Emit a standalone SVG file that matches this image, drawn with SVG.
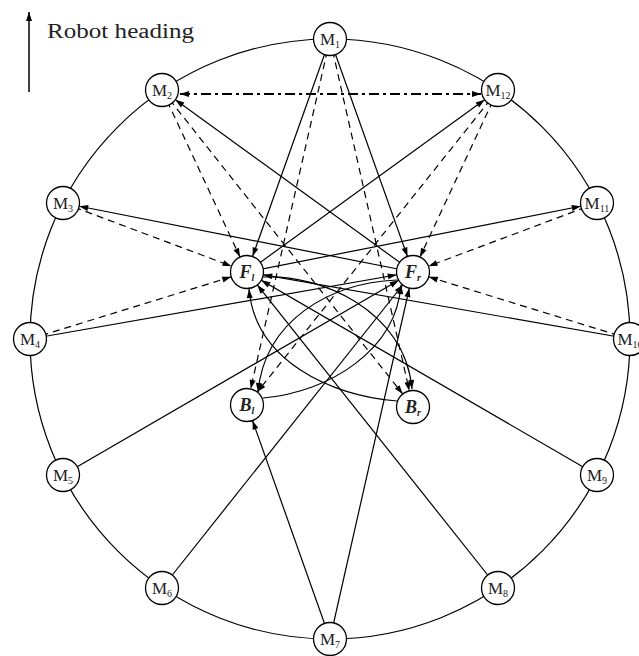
<svg xmlns="http://www.w3.org/2000/svg" width="639" height="656" viewBox="0 0 639 656">
<style>
.ln{stroke:#000;stroke-width:1.2;fill:none}
.ds{stroke:#000;stroke-width:1.2;fill:none;stroke-dasharray:7,5}
.dd{stroke:#000;stroke-width:2;fill:none;stroke-dasharray:10,4,3,4}
.nd{fill:#fff;stroke:#000;stroke-width:1.3}
.lb{font-family:"Liberation Serif","DejaVu Serif",serif;font-size:17px;fill:#222;text-anchor:middle}
.sb{font-size:10px}
.fb{font-family:"Liberation Serif","DejaVu Serif",serif;font-size:18px;font-style:italic;font-weight:bold;fill:#222;text-anchor:middle}
.ttl{font-family:"Liberation Serif","DejaVu Serif",serif;font-size:20px;fill:#222}
.na{marker-end:url(#an)}
.ea{marker-end:url(#a)}
</style>
<defs>
<marker id="an" viewBox="0 0 9 6" refX="25.5" refY="3" markerWidth="9" markerHeight="6" markerUnits="userSpaceOnUse" orient="auto" overflow="visible"><path d="M0,0 L9,3 L0,6 z" fill="#000"/></marker>
<marker id="a" viewBox="0 0 9 6" refX="9" refY="3" markerWidth="9" markerHeight="6" markerUnits="userSpaceOnUse" orient="auto-start-reverse" overflow="visible"><path d="M0,0 L9,3 L0,6 z" fill="#000"/></marker>
</defs>
<g id="heading">
<line class="ln ea" x1="29" y1="92" x2="29" y2="12" style="stroke-width:1.5"/>
<text class="ttl" x="47" y="38" textLength="147" lengthAdjust="spacingAndGlyphs">Robot heading</text>
</g>
<g id="connectors">
<circle cx="330" cy="339" r="300" class="ln"/>
<line class="ln na" x1="330" y1="39" x2="247" y2="272"/>
<line class="ln na" x1="330" y1="39" x2="413" y2="272"/>
<line class="ln na" x1="413" y1="272" x2="162" y2="90"/>
<line class="ln na" x1="247" y1="272" x2="498" y2="90"/>
<line class="ln na" x1="413" y1="272" x2="63" y2="203"/>
<line class="ln na" x1="247" y1="272" x2="597" y2="203"/>
<line class="ln na" x1="30" y1="339" x2="413" y2="272"/>
<line class="ln na" x1="630" y1="339" x2="247" y2="272"/>
<line class="ln na" x1="63" y1="475" x2="413" y2="272"/>
<line class="ln na" x1="597" y1="475" x2="247" y2="272"/>
<line class="ln na" x1="162" y1="588" x2="413" y2="272"/>
<line class="ln na" x1="498" y1="588" x2="247" y2="272"/>
<line class="ln na" x1="330" y1="639" x2="247" y2="405"/>
<line class="ln na" x1="330" y1="639" x2="413" y2="272"/>
<line class="ds na" x1="330" y1="39" x2="247" y2="405"/>
<line class="ds na" x1="330" y1="39" x2="413" y2="407"/>
<line class="ds na" x1="162" y1="90" x2="247" y2="272"/>
<line class="ds na" x1="162" y1="90" x2="413" y2="407"/>
<line class="ds na" x1="498" y1="90" x2="413" y2="272"/>
<line class="ds na" x1="498" y1="90" x2="247" y2="405"/>
<line class="ds na" x1="63" y1="203" x2="247" y2="272"/>
<line class="ds na" x1="597" y1="203" x2="413" y2="272"/>
<line class="ds na" x1="30" y1="339" x2="247" y2="272"/>
<line class="ds na" x1="630" y1="339" x2="413" y2="272"/>
<line class="dd" x1="180" y1="94" x2="481" y2="94" marker-start="url(#a)" marker-end="url(#a)"/>
<path class="ln ea" d="M263,277 C320,274 405,310 412,389"/>
<path class="ln ea" d="M397,280 C330,283 265,320 258,392"/>
<path class="ln ea" d="M263,398 C330,392 396,350 401,285"/>
<path class="ln ea" d="M397,401 C330,396 255,360 249,289"/>
</g>
<g id="M1"><circle class="nd" cx="330" cy="39" r="16.5"/><text class="lb" x="330" y="45">M<tspan class="sb" dy="3">1</tspan></text></g>
<g id="M2"><circle class="nd" cx="162" cy="90" r="16.5"/><text class="lb" x="162" y="96">M<tspan class="sb" dy="3">2</tspan></text></g>
<g id="M3"><circle class="nd" cx="63" cy="203" r="16.5"/><text class="lb" x="63" y="209">M<tspan class="sb" dy="3">3</tspan></text></g>
<g id="M4"><circle class="nd" cx="30" cy="339" r="16.5"/><text class="lb" x="30" y="345">M<tspan class="sb" dy="3">4</tspan></text></g>
<g id="M5"><circle class="nd" cx="63" cy="475" r="16.5"/><text class="lb" x="63" y="481">M<tspan class="sb" dy="3">5</tspan></text></g>
<g id="M6"><circle class="nd" cx="162" cy="588" r="16.5"/><text class="lb" x="162" y="594">M<tspan class="sb" dy="3">6</tspan></text></g>
<g id="M7"><circle class="nd" cx="330" cy="639" r="16.5"/><text class="lb" x="330" y="645">M<tspan class="sb" dy="3">7</tspan></text></g>
<g id="M8"><circle class="nd" cx="498" cy="588" r="16.5"/><text class="lb" x="498" y="594">M<tspan class="sb" dy="3">8</tspan></text></g>
<g id="M9"><circle class="nd" cx="597" cy="475" r="16.5"/><text class="lb" x="597" y="481">M<tspan class="sb" dy="3">9</tspan></text></g>
<g id="M10"><circle class="nd" cx="630" cy="339" r="16.5"/><text class="lb" x="630" y="345">M<tspan class="sb" dy="3">10</tspan></text></g>
<g id="M11"><circle class="nd" cx="597" cy="203" r="16.5"/><text class="lb" x="597" y="209">M<tspan class="sb" dy="3">11</tspan></text></g>
<g id="M12"><circle class="nd" cx="498" cy="90" r="16.5"/><text class="lb" x="498" y="96">M<tspan class="sb" dy="3">12</tspan></text></g>
<g id="Fl"><circle class="nd" cx="247" cy="272" r="16.5"/><text class="fb" x="247" y="278">F<tspan class="sb" dy="3">l</tspan></text></g>
<g id="Fr"><circle class="nd" cx="413" cy="272" r="16.5"/><text class="fb" x="413" y="278">F<tspan class="sb" dy="3">r</tspan></text></g>
<g id="Bl"><circle class="nd" cx="247" cy="405" r="16.5"/><text class="fb" x="247" y="411">B<tspan class="sb" dy="3">l</tspan></text></g>
<g id="Br"><circle class="nd" cx="413" cy="407" r="16.5"/><text class="fb" x="413" y="413">B<tspan class="sb" dy="3">r</tspan></text></g>
</svg>
